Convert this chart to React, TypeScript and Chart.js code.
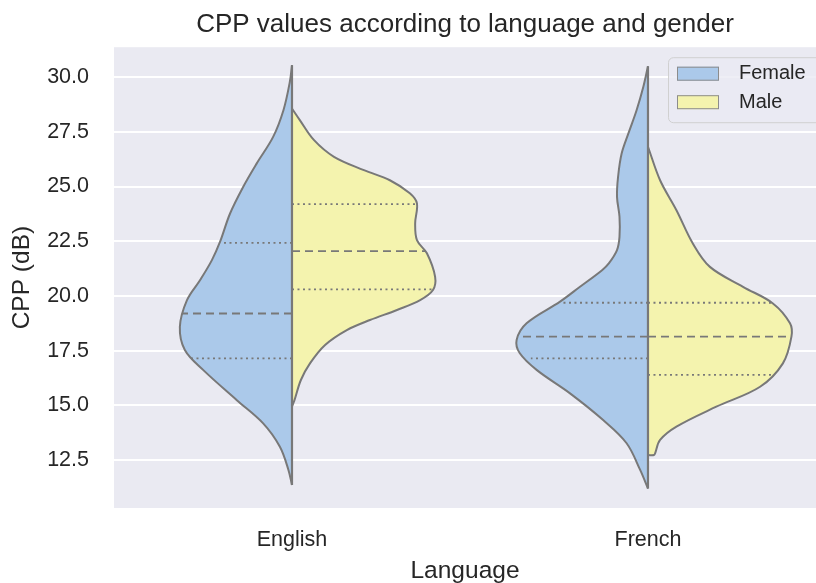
import React, { useEffect, useRef } from "react";
import { Chart, registerables } from "chart.js";

Chart.register(...registerables);

// ---------- data ----------
const categories = ["English", "French"];
const genders = ["Female", "Male"];
const yTickValues = [12.5, 15.0, 17.5, 20.0, 22.5, 25.0, 27.5, 30.0];

// Kernel density outlines (CPP value, half-width in category units)
const engFemaleCPP = [11.36, 12.05, 13.11, 14.18, 15.24, 16.61, 17.53, 18.59, 19.81, 20.73, 21.64, 22.48, 23.77, 24.99, 26.06, 27.27, 28.49, 29.79, 30.55];
const engFemaleDensity = [0, 0.010, 0.034, 0.081, 0.155, 0.249, 0.301, 0.315, 0.295, 0.258, 0.225, 0.202, 0.174, 0.137, 0.099, 0.053, 0.024, 0.006, 0];

const engMaleCPP = [14.95, 15.24, 16.16, 16.93, 17.76, 18.44, 18.9, 19.36, 19.81, 20.27, 20.88, 21.95, 22.55, 23.32, 24.23, 24.69, 25.29, 25.75, 26.36, 27.12, 28.04, 28.57];
const engMaleDensity = [0, 0.007, 0.025, 0.051, 0.093, 0.154, 0.219, 0.295, 0.36, 0.396, 0.402, 0.379, 0.351, 0.346, 0.351, 0.331, 0.275, 0.202, 0.118, 0.062, 0.022, 0];

const frFemaleCPP = [11.2, 12.05, 13.27, 14.33, 15.55, 16.61, 17.38, 17.99, 18.75, 19.74, 20.42, 21.18, 21.49, 22.1, 22.7, 23.62, 24.53, 25.45, 26.51, 27.43, 28.49, 29.56, 30.5];
const frFemaleDensity = [0, 0.022, 0.06, 0.126, 0.219, 0.312, 0.36, 0.369, 0.341, 0.247, 0.191, 0.129, 0.11, 0.087, 0.08, 0.08, 0.087, 0.084, 0.074, 0.055, 0.032, 0.013, 0];

const frMaleCPP = [12.73, 12.73, 12.81, 13.42, 14.03, 14.94, 15.85, 16.92, 18.14, 18.75, 19.66, 20.42, 21.33, 22.4, 23.92, 25.29, 26.82];
const frMaleDensity = [0, 0.017, 0.02, 0.034, 0.08, 0.192, 0.315, 0.379, 0.403, 0.399, 0.351, 0.267, 0.174, 0.126, 0.08, 0.034, 0];

// Quartiles (Q1, median, Q3) and the half-width of the violin at each
const engFemaleQuartiles = [17.15, 19.2, 22.43];
const engFemaleQuartileDensity = [0.287, 0.309, 0.197];
const engMaleQuartiles = [20.3, 22.05, 24.2];
const engMaleQuartileDensity = [0.393, 0.374, 0.351];
const frFemaleQuartiles = [17.15, 18.14, 19.69];
const frFemaleQuartileDensity = [0.329, 0.365, 0.247];
const frMaleQuartiles = [16.39, 18.14, 19.69];
const frMaleQuartileDensity = [0.348, 0.396, 0.346];

// ---------- styles ----------
const FEMALE_FILL = "#abc9ea";
const MALE_FILL = "#f4f3ae";
const EDGE = "#787878";
const FONT = "'Liberation Sans', Arial, Helvetica, sans-serif";
const TEXT = "#262626";
const PLOT_BG = "#eaeaf2";

function halfViolin(center: number, side: number, cpp: number[], dens: number[], color: string, label: string) {
  return {
    type: "line",
    label,
    indexAxis: "y",
    data: cpp.map((v, i) => ({ x: center + side * dens[i], y: v })),
    fill: { value: center },
    backgroundColor: color,
    borderColor: EDGE,
    borderWidth: 2,
    tension: 0.35,
    pointRadius: 0,
    order: 3,
  };
}

function quartileLines(center: number, side: number, q: number[], dens: number[]) {
  return q.map((v, i) => ({
    type: "line",
    indexAxis: "y",
    data: [
      { x: center, y: v },
      { x: center + side * dens[i], y: v },
    ],
    borderColor: EDGE,
    borderWidth: 1.8,
    borderDash: i === 1 ? [8, 5] : [2, 3.5],
    fill: false,
    pointRadius: 0,
    tension: 0,
    order: 2,
  }));
}

function splitLine(center: number, a: number[], b: number[]) {
  const lo = Math.min(a[0], b[0]);
  const hi = Math.max(a[a.length - 1], b[b.length - 1]);
  return {
    type: "line",
    indexAxis: "y",
    data: [
      { x: center, y: lo },
      { x: center, y: hi },
    ],
    borderColor: EDGE,
    borderWidth: 2.2,
    fill: false,
    pointRadius: 0,
    tension: 0,
    order: 1,
  };
}

const bgPlugin = {
  id: "plotBg",
  beforeDraw(chart: any) {
    const { ctx, chartArea: a } = chart;
    ctx.save();
    ctx.fillStyle = PLOT_BG;
    ctx.fillRect(a.left, a.top, a.right - a.left, a.bottom - a.top);
    ctx.restore();
  },
};

const legendPlugin = {
  id: "violinLegend",
  afterDraw(chart: any) {
    const { ctx, chartArea: a } = chart;
    const x0 = a.right - 148;
    const y0 = a.top + 10;
    ctx.save();
    ctx.beginPath();
    if (ctx.roundRect) ctx.roundRect(x0 + 0.5, y0 + 0.5, 175, 65, 5);
    else ctx.rect(x0 + 0.5, y0 + 0.5, 175, 65);
    ctx.fillStyle = "rgba(234,234,242,0.8)";
    ctx.fill();
    ctx.strokeStyle = "#d0d0d0";
    ctx.lineWidth = 1;
    ctx.stroke();
    const fills = [FEMALE_FILL, MALE_FILL];
    genders.forEach((g, i) => {
      const y = y0 + 16.5 + i * 28.5;
      ctx.fillStyle = fills[i];
      ctx.fillRect(x0 + 9, y - 7, 42, 14);
      ctx.strokeStyle = "#8c8c8c";
      ctx.lineWidth = 1;
      ctx.strokeRect(x0 + 9.5, y - 6.5, 41, 13);
      ctx.fillStyle = TEXT;
      ctx.font = `20px ${FONT}`;
      ctx.textBaseline = "middle";
      ctx.textAlign = "left";
      ctx.fillText(g, x0 + 71, y);
    });
    ctx.restore();
  },
};

export default function App() {
  const canvasRef = useRef<HTMLCanvasElement | null>(null);

  useEffect(() => {
    if (!canvasRef.current) return;
    const datasets: any[] = [
      halfViolin(0, -1, engFemaleCPP, engFemaleDensity, FEMALE_FILL, "Female"),
      halfViolin(0, 1, engMaleCPP, engMaleDensity, MALE_FILL, "Male"),
      halfViolin(1, -1, frFemaleCPP, frFemaleDensity, FEMALE_FILL, "Female"),
      halfViolin(1, 1, frMaleCPP, frMaleDensity, MALE_FILL, "Male"),
      ...quartileLines(0, -1, engFemaleQuartiles, engFemaleQuartileDensity),
      ...quartileLines(0, 1, engMaleQuartiles, engMaleQuartileDensity),
      ...quartileLines(1, -1, frFemaleQuartiles, frFemaleQuartileDensity),
      ...quartileLines(1, 1, frMaleQuartiles, frMaleQuartileDensity),
      splitLine(0, engFemaleCPP, engMaleCPP),
      splitLine(1, frFemaleCPP, frMaleCPP),
    ];

    const chart = new Chart(canvasRef.current, {
      type: "line",
      data: { datasets },
      options: {
        animation: false,
        responsive: false,
        maintainAspectRatio: false,
        events: [],
        layout: { padding: 0 },
        plugins: {
          legend: { display: false },
          tooltip: { enabled: false },
          title: {
            display: true,
            fullSize: false,
            text: "CPP values according to language and gender",
            color: TEXT,
            font: { family: FONT, size: 26, weight: "normal", lineHeight: 1.2 },
            padding: { top: 9, bottom: 7 },
          },
        },
        scales: {
          x: {
            type: "linear",
            min: -0.5,
            max: 1.472,
            afterBuildTicks: (scale: any) => {
              scale.ticks = categories.map((_, i) => ({ value: i }));
            },
            afterFit: (scale: any) => {
              scale.height = 75;
            },
            ticks: {
              color: TEXT,
              font: { family: FONT, size: 21.5 },
              padding: 19,
              callback: (v: any) => categories[Math.round(Number(v))] ?? "",
            },
            grid: { display: false, drawTicks: false },
            border: { display: false },
            title: {
              display: true,
              text: "Language",
              color: TEXT,
              font: { family: FONT, size: 24.5, lineHeight: 1.0 },
              padding: { top: 0, bottom: 0 },
            },
          },
          y: {
            type: "linear",
            min: 10.31,
            max: 31.37,
            afterBuildTicks: (scale: any) => {
              scale.ticks = yTickValues.map((v) => ({ value: v }));
            },
            afterFit: (scale: any) => {
              scale.width = 114;
            },
            ticks: {
              color: TEXT,
              font: { family: FONT, size: 21.5 },
              padding: 25,
              callback: (v: any) => Number(v).toFixed(1),
            },
            grid: { color: "#ffffff", lineWidth: 2, drawTicks: false },
            border: { display: false },
            title: {
              display: true,
              text: "CPP (dB)",
              color: TEXT,
              font: { family: FONT, size: 24.5, lineHeight: 1.2 },
              padding: { top: 8, bottom: 0 },
            },
          },
        },
      } as any,
      plugins: [bgPlugin, legendPlugin],
    } as any);

    return () => chart.destroy();
  }, []);

  return (
    <div style={{ position: "absolute", left: 0, top: 0, width: 816, height: 583, background: "#fff" }}>
      <canvas ref={canvasRef} width={816} height={583} style={{ display: "block" }} />
    </div>
  );
}
